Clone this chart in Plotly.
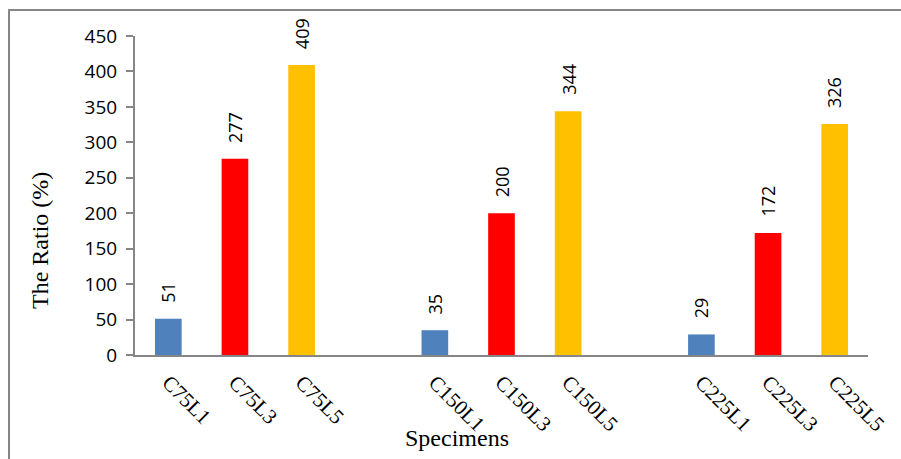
import plotly.graph_objects as go

categories = ["C75L1", "C75L3", "C75L5", " ", "C150L1", "C150L3", "C150L5", "  ", "C225L1", "C225L3", "C225L5"]
ratios = [51, 277, 409, None, 35, 200, 344, None, 29, 172, 326]
bar_colors = ["#4F81BD", "#FF0000", "#FFC000", "#FFFFFF", "#4F81BD", "#FF0000", "#FFC000", "#FFFFFF", "#4F81BD", "#FF0000", "#FFC000"]
y_ticks = [0, 50, 100, 150, 200, 250, 300, 350, 400, 450]

W, H = 901, 459
ML, MR, MT, MB = 135, 33, 36, 104
PW, PH = W - ML - MR, H - MT - MB

def px(x):
    return (x - ML) / PW

def py(y):
    return (H - MB - y) / PH

fig = go.Figure()
fig.add_trace(go.Bar(
    x=categories, y=ratios,
    marker=dict(color=bar_colors, line=dict(width=0)),
    hoverinfo="x+y",
))

annotations = []
for c, v in zip(categories, ratios):
    if v is None:
        continue
    annotations.append(dict(
        x=c, y=v, xref="x", yref="y", text=str(v), showarrow=False,
        textangle=-90, yanchor="bottom", xanchor="center", yshift=14,
        font=dict(family="Open Sans", size=18, color="#000000"),
    ))

annotations.append(dict(
    x=px(40), y=py(240), xref="paper", yref="paper", text="The Ratio (%)",
    showarrow=False, textangle=-90, xanchor="center", yanchor="middle",
    font=dict(family="Liberation Serif", size=24, color="#000000"),
))
annotations.append(dict(
    x=px(457), y=py(438), xref="paper", yref="paper", text="Specimens",
    showarrow=False, xanchor="center", yanchor="middle",
    font=dict(family="Liberation Serif", size=24, color="#000000"),
))

fig.update_layout(
    width=W, height=H,
    margin=dict(l=ML, r=MR, t=MT, b=MB),
    paper_bgcolor="white", plot_bgcolor="white",
    bargap=0.6,
    showlegend=False,
    annotations=annotations,
    shapes=[dict(
        type="rect", xref="paper", yref="paper",
        x0=px(9), x1=px(906), y0=py(466), y1=py(10),
        line=dict(color="#868686", width=2), fillcolor="rgba(0,0,0,0)",
        layer="below",
    )],
    xaxis=dict(
        type="category", categoryorder="array", categoryarray=categories,
        showline=True, linecolor="#868686", linewidth=2,
        ticks="", tickangle=45, showgrid=False, zeroline=False,
        ticklabelstandoff=5,
        tickfont=dict(family="Liberation Serif", size=21, color="#000000"),
    ),
    yaxis=dict(
        range=[0, 450], tickvals=y_ticks, showline=True, linecolor="#868686",
        linewidth=2, ticks="outside", ticklen=7, tickwidth=2, tickcolor="#868686",
        showgrid=False, zeroline=False, ticklabelstandoff=5,
        tickfont=dict(family="Open Sans", size=19, color="#000000"),
    ),
)

fig.write_html("out.html")
